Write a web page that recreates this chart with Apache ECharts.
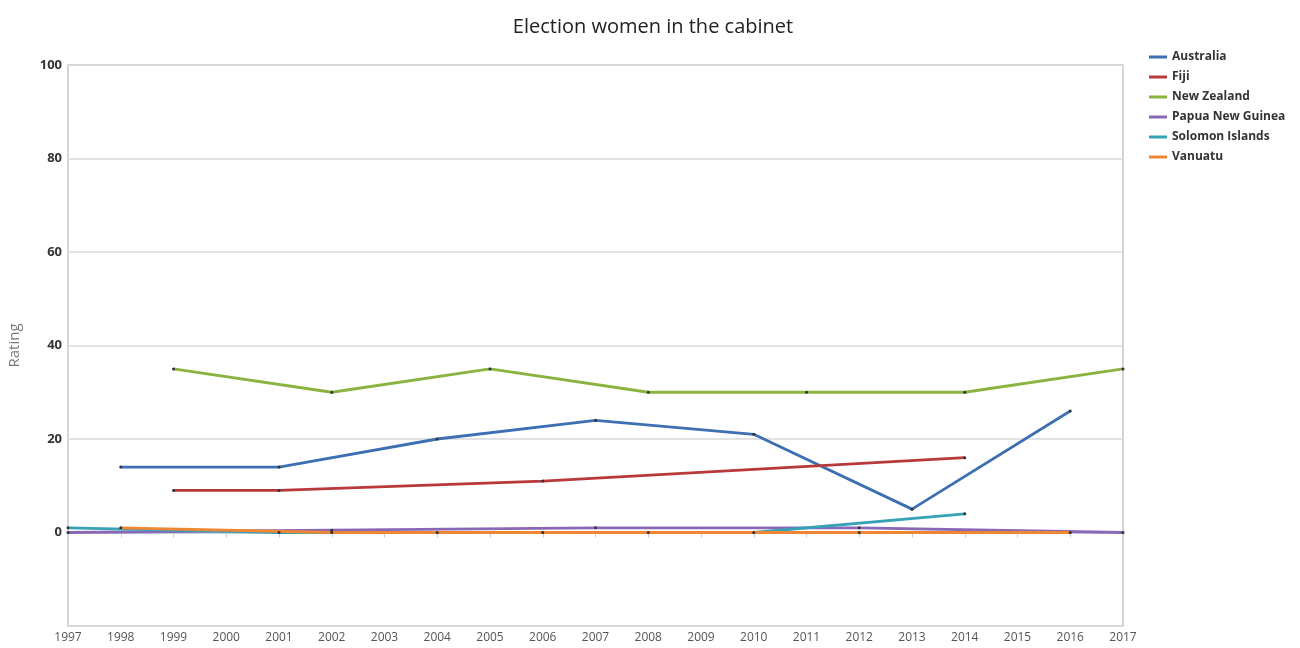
<!DOCTYPE html>
<html><head><meta charset="utf-8">
<script src="https://cdn.jsdelivr.net/npm/echarts@6/dist/echarts.min.js"></script>
<style>html,body{margin:0;padding:0;background:#fff}#c{width:1300px;height:648px}</style>
</head><body><div id="c"></div>
<script>
const seriesNames = ["Australia","Fiji","New Zealand","Papua New Guinea","Solomon Islands","Vanuatu"];
const colors = ["#3d6fb3","#b9383a","#8ab33f","#8a68b8","#36a2b6","#ee8733"];
const australia = [[1998,14],[2001,14],[2004,20],[2007,24],[2010,21],[2013,5],[2016,26]];
const fiji = [[1999,9],[2001,9],[2006,11],[2014,16]];
const newZealand = [[1999,35],[2002,30],[2005,35],[2008,30],[2011,30],[2014,30],[2017,35]];
const papuaNewGuinea = [[1997,0],[2002,0.5],[2007,1],[2012,1],[2017,0]];
const solomonIslands = [[1997,1],[2001,0],[2006,0],[2010,0],[2014,4]];
const vanuatu = [[1998,1],[2002,0],[2004,0],[2008,0],[2012,0],[2016,0]];
const yTicks = [0,20,40,60,80,100];
const allData = [australia,fiji,newZealand,papuaNewGuinea,solomonIslands,vanuatu];

const chart = echarts.init(document.getElementById('c'), null, {renderer:'canvas'});
chart.setOption({
  animation:false,
  backgroundColor:'#fff',
  title:{text:'Election women in the cabinet',left:648,top:12,textAlign:'center',
    textStyle:{fontFamily:'Open Sans',fontSize:20,fontWeight:'normal',color:'#222'}},
  legend:{orient:'vertical',left:1144,top:46,itemGap:8,itemWidth:18,itemHeight:3,icon:'rect',
    textStyle:{fontFamily:'Open Sans',fontSize:12,fontWeight:'bold',color:'#333'},
    data:seriesNames.map((n,i)=>({name:n,itemStyle:{color:colors[i]}}))},
  grid:{left:68,right:177,top:65,bottom:22,show:true,borderColor:'#c8c8c8',borderWidth:1.5,outerBoundsMode:'none',containLabel:false},
  xAxis:{type:'value',min:1997,max:2017,interval:1,
    axisLine:{show:true,lineStyle:{color:'#c0d0e0',width:1.5}},
    axisTick:{show:true,length:5,lineStyle:{color:'#c0d0e0'}},
    splitLine:{show:false},
    axisLabel:{formatter:v=>String(v),fontFamily:'Open Sans',fontSize:12,color:'#555',margin:6}},
  yAxis:{type:'value',min:-20,max:100,interval:20,name:'Rating',nameLocation:'middle',nameGap:46,
    nameTextStyle:{fontFamily:'Open Sans',fontSize:15,color:'#777'},
    axisLine:{show:false},axisTick:{show:false},
    splitLine:{lineStyle:{color:'#d8d8d8',width:1.5}},
    axisLabel:{formatter:v=>yTicks.includes(v)?String(v):'',fontFamily:'Open Sans',fontSize:13,fontWeight:'bold',color:'#333',margin:6}},
  series:seriesNames.map((n,i)=>({
    name:n,type:'line',data:allData[i],
    symbol:'circle',symbolSize:3,showSymbol:true,
    lineStyle:{color:colors[i],width:2.8},
    itemStyle:{color:'#333',borderWidth:0},
    emphasis:{disabled:true}
  }))
});
</script></body></html>
